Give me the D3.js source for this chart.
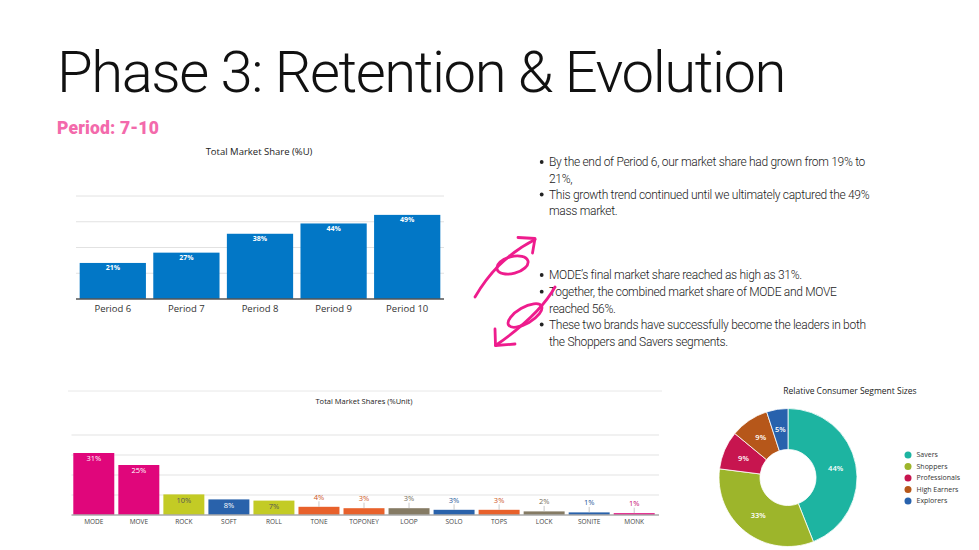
<!DOCTYPE html>
<html>
<head>
<meta charset="utf-8">
<script src="https://cdn.jsdelivr.net/npm/d3@7"></script>
<style>
  body { margin: 0; background: #fff; }
  svg { display: block; }
</style>
</head>
<body>
<div id="chart"></div>
<script>
// ---- data ----
var periods = ["Period 6", "Period 7", "Period 8", "Period 9", "Period 10"];
var periodShare = [21, 27, 38, 44, 49];
var periodTicks = [15, 30, 45, 60];

var brands = ["MODE", "MOVE", "ROCK", "SOFT", "ROLL", "TONE", "TOPONEY", "LOOP", "SOLO", "TOPS", "LOCK", "SONITE", "MONK"];
var brandShare = [31, 25, 10.3, 7.8, 7.2, 4.1, 3.4, 3.4, 2.6, 2.6, 1.8, 1.3, 0.9];
var brandTicks = [10, 20, 30, 40];

var segments = ["Savers", "Shoppers", "Professionals", "High Earners", "Explorers"];
var segmentShare = [44, 33, 9, 9, 5];

var bullets = [
  { dot: true,  text: "By the end of Period 6, our market share had grown from 19% to" },
  { dot: false, text: "21%," },
  { dot: true,  text: "This growth trend continued until we ultimately captured the 49%" },
  { dot: false, text: "mass market." },
  { dot: true,  text: "MODE\u2019s final market share reached as high as 31%." },
  { dot: true,  text: "Together, the combined market share of MODE and MOVE" },
  { dot: false, text: "reached 56%." },
  { dot: true,  text: "These two brands have successfully become the leaders in both" },
  { dot: false, text: "the Shoppers and Savers segments." }
];

// ---- styles ----
var brandColor = {
  MODE: "#e0067b", MOVE: "#e0067b", MONK: "#e0067b",
  ROCK: "#c3cb25", ROLL: "#c3cb25",
  SOFT: "#2962ab", SOLO: "#2962ab", SONITE: "#2962ab",
  TONE: "#e8612b", TOPONEY: "#e8612b", TOPS: "#e8612b",
  LOOP: "#857b64", LOCK: "#857b64"
};
var segmentColor = ["#1db4a1", "#9db52b", "#c7154f", "#b6571a", "#2862ad"];
var pink = "#ee1c8d";
var chartFont = "'Open Sans', 'Noto Sans', sans-serif";
var slideFont = "Roboto, 'Liberation Sans', sans-serif";

var svg = d3.select("#chart").append("svg")
  .attr("width", 979)
  .attr("height", 550);

// squeeze letter spacing so a text line spans a given width
function fitWidth(sel, target) {
  var w = sel.node().getComputedTextLength();
  var n = sel.text().length;
  sel.attr("letter-spacing", ((target - w) / n).toFixed(3));
}

// ---- slide heading ----
var title = svg.append("text")
  .attr("x", 57).attr("y", 92)
  .style("font-family", slideFont).style("font-weight", 300)
  .style("font-size", "58px").attr("fill", "#111")
  .text("Phase 3: Retention & Evolution");
fitWidth(title, 728);

var sub = svg.append("text")
  .attr("x", 57).attr("y", 134)
  .style("font-family", slideFont).style("font-weight", 900)
  .style("font-size", "17.5px").attr("fill", "#f36aab")
  .text("Period: 7-10");
fitWidth(sub, 102);

// ---- bullets ----
var lineY = [162, 178.5, 194.5, 211, 275, 291.7, 308.3, 324.5, 341.5];
var bulletG = svg.append("g");
var lines = bulletG.selectAll("text").data(bullets).join("text")
  .attr("x", 549)
  .attr("y", function(d, i) { return lineY[i] + 4.3; })
  .style("font-family", slideFont).style("font-weight", 300)
  .style("font-size", "12px").attr("fill", "#1a1a1a")
  .text(function(d) { return d.text; });
var first = lines.filter(function(d, i) { return i === 0; });
var w0 = first.node().getComputedTextLength();
lines.attr("letter-spacing", ((316 - w0) / bullets[0].text.length).toFixed(3));
bulletG.selectAll("circle").data(bullets.filter(function(d) { return d.dot; })).join("circle")
  .attr("cx", 541.7)
  .attr("cy", function(d) { return lineY[bullets.indexOf(d)]; })
  .attr("r", 1.9).attr("fill", "#222");

// ---- hand-drawn 6 and 9 arrows ----
var doodle = svg.append("g")
  .attr("fill", "none").attr("stroke", pink)
  .attr("stroke-width", 2.8).attr("stroke-linecap", "round").attr("stroke-linejoin", "round");
// the 6
doodle.append("path").attr("d", "M475,297 C488,275 505,255 535,239.5");
doodle.append("ellipse")
  .attr("rx", 16).attr("ry", 8.5)
  .attr("transform", "translate(512.5,265) rotate(-15)");
doodle.append("path").attr("d", "M518,237.5 L535,238.5 L532.5,253");
// the 9
doodle.append("path").attr("d", "M555,287 C545,305 525,325 495.5,345.5");
doodle.append("ellipse")
  .attr("rx", 19).attr("ry", 8)
  .attr("transform", "translate(525,315.5) rotate(-30)");
doodle.append("path").attr("d", "M495,329 L495.5,345.5 L515,344");

// ---- chart 1: total market share ----
var x1 = d3.scaleBand().domain(periods).range([76, 444]).paddingInner(0.1).paddingOuter(0.05);
var y1 = d3.scaleLinear().domain([0, 60]).range([299, 196]);
var c1 = svg.append("g");

c1.append("text")
  .attr("x", 259).attr("y", 155)
  .attr("text-anchor", "middle")
  .style("font-family", chartFont).style("font-weight", 500)
  .style("font-size", "9.5px").attr("fill", "#222")
  .text("Total Market Share (%U)");

c1.selectAll(".grid").data(periodTicks).join("line")
  .attr("class", "grid")
  .attr("x1", 76).attr("x2", 444)
  .attr("y1", function(d) { return y1(d); }).attr("y2", function(d) { return y1(d); })
  .attr("stroke", "#e2e2e2").attr("stroke-width", 1);

c1.selectAll("rect").data(periodShare).join("rect")
  .attr("x", function(d, i) { return x1(periods[i]); })
  .attr("y", function(d) { return y1(d); })
  .attr("width", x1.bandwidth())
  .attr("height", function(d) { return y1(0) - y1(d); })
  .attr("fill", "#0277c6");

c1.selectAll(".lbl").data(periodShare).join("text")
  .attr("class", "lbl")
  .attr("x", function(d, i) { return x1(periods[i]) + x1.bandwidth() / 2; })
  .attr("y", function(d) { return y1(d) + 7.5; })
  .attr("text-anchor", "middle")
  .style("font-family", chartFont).style("font-weight", 700)
  .style("font-size", "7px").attr("fill", "#fff")
  .text(function(d) { return d + "%"; });

var ax1 = c1.append("g")
  .attr("transform", "translate(0," + y1(0) + ")")
  .call(d3.axisBottom(x1).tickSize(0).tickPadding(6));
ax1.select(".domain").attr("stroke", "#555").attr("stroke-width", 1.5).attr("d", "M76,0H444");
ax1.selectAll("text")
  .style("font-family", chartFont).style("font-size", "9.5px").attr("fill", "#333");

// ---- chart 2: brand market shares ----
var x2 = d3.scaleBand().domain(brands).range([71.5, 656.5]).paddingInner(0.09).paddingOuter(0.04);
var y2 = d3.scaleLinear().domain([0, 40]).range([515, 435]);
var c2 = svg.append("g");

c2.append("line")
  .attr("x1", 68).attr("x2", 662).attr("y1", 391).attr("y2", 391)
  .attr("stroke", "#e8e8e8");

c2.append("text")
  .attr("x", 364).attr("y", 404)
  .attr("text-anchor", "middle")
  .style("font-family", chartFont).style("font-weight", 500)
  .style("font-size", "7.5px").attr("fill", "#222")
  .text("Total Market Shares (%Unit)");

c2.selectAll(".grid").data(brandTicks).join("line")
  .attr("class", "grid")
  .attr("x1", 71.5).attr("x2", 659)
  .attr("y1", function(d) { return y2(d); }).attr("y2", function(d) { return y2(d); })
  .attr("stroke", "#e3e3e3").attr("stroke-width", 1);

c2.selectAll("rect").data(brandShare).join("rect")
  .attr("x", function(d, i) { return x2(brands[i]); })
  .attr("y", function(d) { return y2(d); })
  .attr("width", x2.bandwidth())
  .attr("height", function(d) { return y2(0) - y2(d); })
  .attr("fill", function(d, i) { return brandColor[brands[i]]; });

// leader lines for the small bars
c2.selectAll(".lead").data(brandShare).join("line")
  .attr("class", "lead")
  .attr("display", function(d) { return d < 5 ? null : "none"; })
  .attr("x1", function(d, i) { return x2(brands[i]) + x2.bandwidth() / 2; })
  .attr("x2", function(d, i) { return x2(brands[i]) + x2.bandwidth() / 2; })
  .attr("y1", function(d) { return y2(d) - 5.5; })
  .attr("y2", function(d) { return y2(d); })
  .attr("stroke", "#bbb").attr("stroke-width", 0.8);

c2.selectAll(".lbl").data(brandShare).join("text")
  .attr("class", "lbl")
  .attr("x", function(d, i) { return x2(brands[i]) + x2.bandwidth() / 2; })
  .attr("y", function(d) { return d < 5 ? y2(d) - 7 : y2(d) + 8.2; })
  .attr("text-anchor", "middle")
  .style("font-family", chartFont)
  .style("font-size", "7.5px")
  .attr("fill", function(d, i) {
    var b = brands[i];
    if (d < 5) return d3.color(brandColor[b]).darker(0.35);
    return (b === "ROCK" || b === "ROLL") ? "#555" : "#fff";
  })
  .text(function(d) { return Math.round(d) + "%"; });

var ax2 = c2.append("g")
  .attr("transform", "translate(0," + y2(0) + ")")
  .call(d3.axisBottom(x2).tickSize(0).tickPadding(4.5));
ax2.select(".domain").attr("stroke", "#aaa").attr("stroke-width", 1.5).attr("d", "M71.5,0H659");
ax2.selectAll("text")
  .style("font-family", chartFont).style("font-size", "6.5px").attr("fill", "#444");

// ---- chart 3: consumer segments donut ----
var pie = d3.pie().sort(null).value(function(d) { return d; });
var arc = d3.arc().innerRadius(28).outerRadius(69);
var arcs = pie(segmentShare);
var c3 = svg.append("g").attr("transform", "translate(788,477.5)");

svg.append("text")
  .attr("x", 850).attr("y", 394)
  .attr("text-anchor", "middle")
  .style("font-family", chartFont).style("font-weight", 500)
  .style("font-size", "8.5px").attr("fill", "#222")
  .text("Relative Consumer Segment Sizes");

c3.selectAll("path").data(arcs).join("path")
  .attr("d", arc)
  .attr("fill", function(d, i) { return segmentColor[i]; })
  .attr("stroke", "#fff").attr("stroke-width", 0.8);

c3.selectAll("text").data(arcs).join("text")
  .attr("transform", function(d) { return "translate(" + arc.centroid(d) + ")"; })
  .attr("dy", "0.35em")
  .attr("text-anchor", "middle")
  .style("font-family", chartFont).style("font-weight", 600)
  .style("font-size", "7.5px").attr("fill", "#fff")
  .text(function(d) { return d.data + "%"; });

var legend = svg.append("g").attr("transform", "translate(908,455)");
var item = legend.selectAll("g").data(segments).join("g")
  .attr("transform", function(d, i) { return "translate(0," + (i * 11.5) + ")"; });
item.append("circle").attr("r", 3.5).attr("fill", function(d, i) { return segmentColor[i]; });
item.append("text")
  .attr("x", 8.5).attr("dy", "0.35em")
  .style("font-family", chartFont)
  .style("font-size", "7px").attr("fill", "#333")
  .text(function(d) { return d; });
</script>
</body>
</html>
